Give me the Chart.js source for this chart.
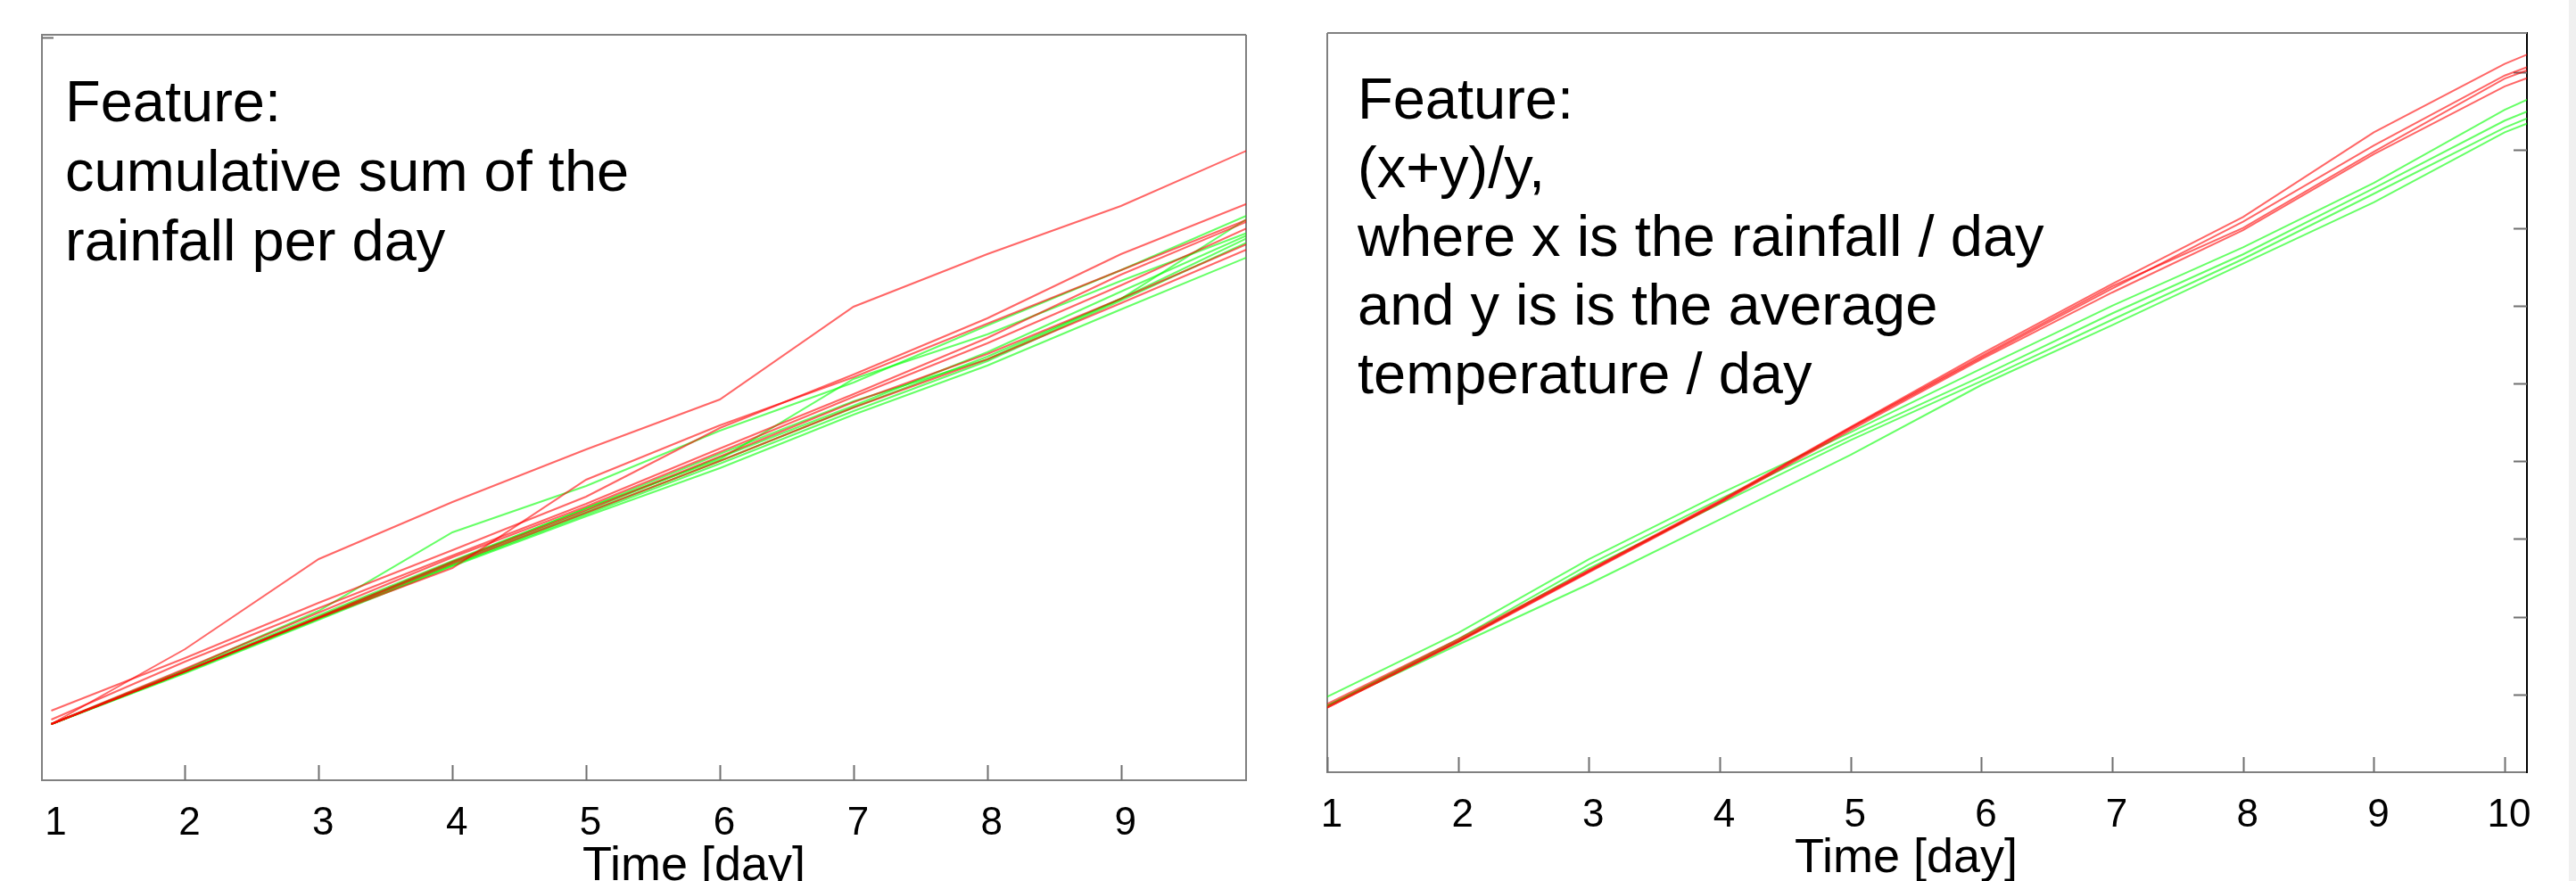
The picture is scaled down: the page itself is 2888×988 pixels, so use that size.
<!DOCTYPE html>
<html>
<head>
<meta charset="utf-8">
<title>Feature plots</title>
<script src="https://cdn.jsdelivr.net/npm/chart.js@4.4.1/dist/chart.umd.min.js"></script>
<style>
  html, body { margin: 0; padding: 0; background: #fff; }
  #wrap { position: relative; width: 2888px; height: 988px; overflow: hidden; }
  canvas { position: absolute; top: 0; }
  #left { left: 0; }
  #right { left: 1440px; }
  #edge { position: absolute; left: 2880px; top: 0; width: 8px; height: 988px; background: #f0f0f0; }
</style>
</head>
<body>
<div id="wrap">
  <canvas id="left" width="1440" height="988"></canvas>
  <canvas id="right" width="1440" height="988"></canvas>
  <div id="edge"></div>
</div>
<script>
// Left panel: cumulative rainfall (no y labels, values read as height above the axis)
const leftDays = [1, 2, 3, 4, 5, 6, 7, 8, 9, 10];
const leftXLabels = ['1', '2', '3', '4', '5', '6', '7', '8', '9'];
const leftXTickMarks = [2, 3, 4, 5, 6, 7, 8, 9];
const leftYTickMarks = [833];
const leftText = ['Feature:', 'cumulative sum of the', 'rainfall per day'];

const leftRed = [
  [63, 147, 248, 312, 371, 427, 531, 590, 644, 710],
  [78, 137, 199, 258, 318, 395, 455, 518, 590, 650],
  [63, 122, 182, 238, 337, 398, 452, 512, 572, 632],
  [68, 133, 193, 252, 310, 372, 433, 496, 567, 630],
  [63, 125, 188, 250, 307, 368, 430, 490, 555, 623],
  [63, 122, 183, 245, 303, 363, 424, 478, 540, 605],
  [63, 122, 182, 243, 300, 358, 418, 472, 535, 599]
];
const leftGreen = [
  [63, 124, 190, 278, 330, 392, 446, 510, 572, 637],
  [63, 122, 183, 245, 305, 360, 450, 500, 560, 617],
  [63, 123, 185, 246, 305, 366, 425, 472, 540, 635],
  [63, 122, 183, 244, 302, 362, 420, 480, 548, 615],
  [63, 122, 182, 242, 300, 358, 418, 475, 540, 612],
  [63, 121, 181, 241, 298, 355, 414, 470, 538, 607],
  [63, 120, 180, 240, 296, 350, 410, 465, 528, 590]
];

// Right panel: (x+y)/y, y read in units of the right-axis ticks
const rightDays = [1, 2, 3, 4, 5, 6, 7, 8, 9, 10, 11];
const rightXLabels = ['1', '2', '3', '4', '5', '6', '7', '8', '9', '10'];
const rightXTickMarks = [1, 2, 3, 4, 5, 6, 7, 8, 9, 10];
const rightYTickMarks = [1, 2, 3, 4, 5, 6, 7, 8, 9];
const rightText = ['Feature:', '(x+y)/y,', 'where x is the rainfall / day', 'and y is is the average', 'temperature / day'];

const rightRed = [
  [0.88, 1.71, 2.60, 3.49, 4.44, 5.38, 6.28, 7.14, 8.23, 9.11, 9.81],
  [0.83, 1.68, 2.58, 3.47, 4.42, 5.33, 6.22, 7.08, 8.06, 8.96, 9.59],
  [0.85, 1.69, 2.59, 3.48, 4.43, 5.35, 6.25, 7.00, 7.98, 8.92, 9.55],
  [0.83, 1.67, 2.57, 3.46, 4.40, 5.31, 6.17, 6.97, 7.95, 8.82, 9.45]
];
const rightGreen = [
  [0.97, 1.79, 2.74, 3.58, 4.37, 5.19, 6.00, 6.75, 7.58, 8.52, 9.27],
  [0.85, 1.71, 2.67, 3.51, 4.32, 5.09, 5.90, 6.66, 7.51, 8.38, 9.07],
  [0.86, 1.68, 2.62, 3.45, 4.27, 5.03, 5.82, 6.60, 7.44, 8.29, 8.98],
  [0.85, 1.64, 2.42, 3.25, 4.08, 4.98, 5.75, 6.54, 7.33, 8.23, 8.89]
];

const RED = 'rgba(255, 0, 0, 0.6)';
const GREEN = 'rgba(0, 255, 0, 0.6)';
const FRAME = '#808080';
const TICK = '#707070';
const FONT = '"Liberation Sans", Arial, sans-serif';

Chart.defaults.font.family = FONT;
Chart.defaults.color = '#000';

// frame sides, inward ticks, feature text and axis title
const panelDeco = {
  id: 'panelDeco',
  beforeDatasetsDraw(chart, args, opts) {
    const { ctx, chartArea: a, scales: { x, y } } = chart;
    ctx.save();
    ctx.strokeStyle = FRAME;
    ctx.lineWidth = 2;
    ctx.beginPath();
    ctx.moveTo(a.left, a.top);
    ctx.lineTo(a.right, a.top);
    if (opts.yPos === 'left') {
      ctx.moveTo(a.right, a.top);
      ctx.lineTo(a.right, a.bottom);
    } else {
      ctx.moveTo(a.left, a.top);
      ctx.lineTo(a.left, a.bottom);
    }
    ctx.stroke();

    ctx.strokeStyle = TICK;
    ctx.beginPath();
    opts.xMarks.forEach(v => {
      const px = Math.round(x.getPixelForValue(v)) + 0.5;
      ctx.moveTo(px, a.bottom);
      ctx.lineTo(px, a.bottom - 17);
    });
    const edge = opts.yPos === 'left' ? a.left : a.right;
    const dir = opts.yPos === 'left' ? 1 : -1;
    y.ticks.forEach(t => {
      const py = Math.round(y.getPixelForValue(t.value)) + 0.5;
      ctx.moveTo(edge, py);
      ctx.lineTo(edge + dir * opts.yTickLen, py);
    });
    ctx.stroke();
    ctx.restore();
  },
  afterDraw(chart, args, opts) {
    const { ctx, chartArea: a } = chart;
    ctx.save();
    ctx.fillStyle = '#000';
    ctx.textBaseline = 'alphabetic';
    ctx.textAlign = 'left';
    ctx.font = '65px ' + FONT;
    opts.text.forEach((line, i) => {
      ctx.fillText(line, a.left + opts.textX, a.top + opts.textY + i * opts.textStep);
    });
    ctx.font = '54px ' + FONT;
    ctx.textAlign = 'center';
    ctx.fillText('Time [day]', opts.titleX, a.bottom + 112);
    ctx.restore();
  }
};

function lineSet(days, values, color) {
  return {
    data: days.map((d, i) => ({ x: d, y: values[i] })),
    borderColor: color,
    borderWidth: 2,
    pointRadius: 0,
    tension: 0,
    fill: false
  };
}

function makeChart(id, cfg) {
  // reds first so they are drawn on top
  const datasets = [];
  cfg.red.forEach(s => datasets.push(lineSet(cfg.days, s, RED)));
  cfg.green.forEach(s => datasets.push(lineSet(cfg.days, s, GREEN)));

  return new Chart(document.getElementById(id), {
    type: 'line',
    data: { datasets },
    options: {
      responsive: false,
      animation: false,
      events: [],
      layout: { padding: cfg.padding },
      plugins: {
        legend: { display: false },
        tooltip: { enabled: false },
        panelDeco: cfg.deco
      },
      scales: {
        x: {
          type: 'linear',
          min: cfg.xMin,
          max: cfg.xMax,
          afterBuildTicks: s => { s.ticks = cfg.xLabels.map(l => ({ value: Number(l) })); },
          afterFit: s => { s.height = cfg.xHeight; },
          grid: { display: false },
          border: { display: true, color: FRAME, width: 2 },
          ticks: {
            autoSkip: false,
            maxRotation: 0,
            padding: 14,
            labelOffset: 5,
            font: { size: 44 },
            color: '#000',
            callback: (v, i) => cfg.xLabels[i]
          }
        },
        y: {
          type: 'linear',
          position: cfg.deco.yPos,
          min: 0,
          max: cfg.yMax,
          afterBuildTicks: s => { s.ticks = cfg.yMarks.map(v => ({ value: v })); },
          afterFit: s => { s.width = cfg.yWidth; },
          grid: { display: false },
          border: { display: true, color: cfg.yBorder, width: 2 },
          ticks: { display: false }
        }
      }
    },
    plugins: [panelDeco]
  });
}

makeChart('left', {
  days: leftDays, red: leftRed, green: leftGreen,
  xLabels: leftXLabels, yMarks: leftYTickMarks,
  xMin: 0.93, xMax: 9.936, yMax: 836,
  padding: { top: 39, right: 43, left: 0, bottom: 0 },
  xHeight: 113, yWidth: 47, yBorder: FRAME,
  deco: {
    yPos: 'left', xMarks: leftXTickMarks, yTickLen: 13,
    text: leftText, textX: 26, textY: 97, textStep: 78, titleX: 778
  }
});

makeChart('right', {
  days: rightDays, red: rightRed, green: rightGreen,
  xLabels: rightXLabels, yMarks: rightYTickMarks,
  xMin: 1, xMax: 10.17, yMax: 9.507,
  padding: { top: 37, right: 0, left: 48, bottom: 0 },
  xHeight: 122, yWidth: 47, yBorder: '#000',
  deco: {
    yPos: 'right', xMarks: rightXTickMarks, yTickLen: 15,
    text: rightText, textX: 34, textY: 96, textStep: 77, titleX: 697
  }
});
</script>
</body>
</html>
